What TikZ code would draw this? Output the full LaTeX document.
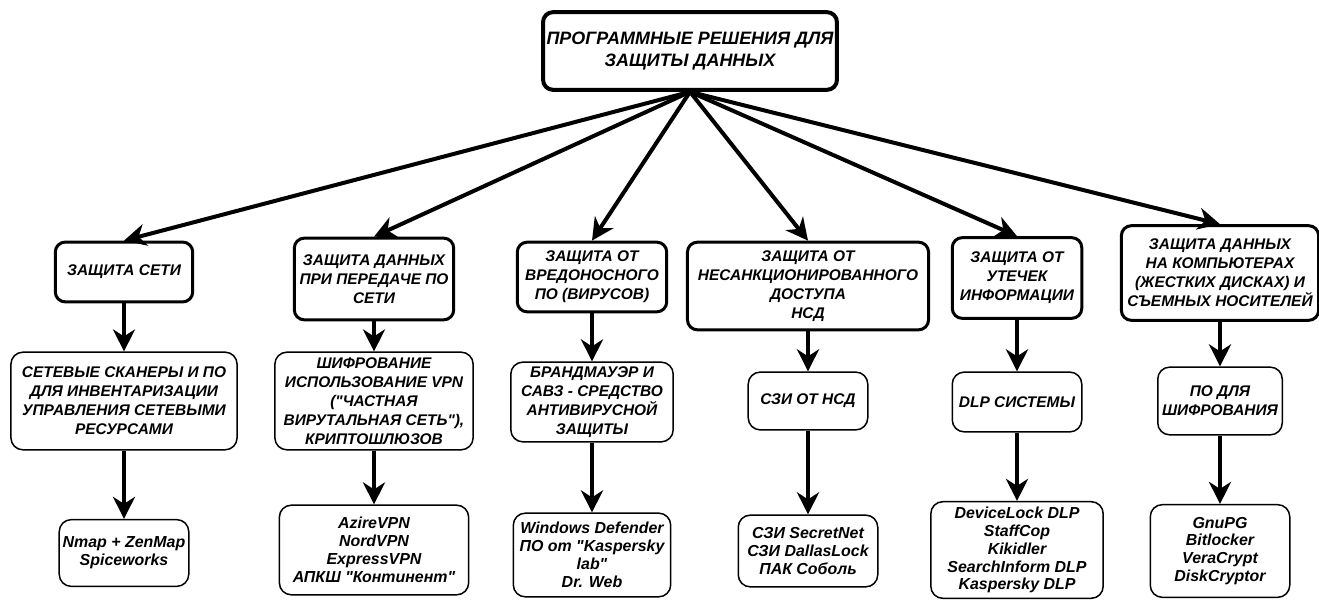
\documentclass[tikz,border=0pt]{standalone}
\usepackage{fontspec}
\setmainfont{Liberation Sans}[Ligatures=TeXOff]
\usetikzlibrary{arrows.meta}

\begin{document}
\begin{tikzpicture}[x=1bp, y=1bp,
    every node/.style={draw, rectangle, align=center, inner sep=1bp},
    rootbox/.style={line width=4bp, rounded corners=10bp, font=\fontsize{18}{21.5}\selectfont\bfseries\itshape},
    areabox/.style={line width=3bp, rounded corners=10bp, font=\fontsize{15.5}{19}\selectfont\bfseries\itshape},
    meansbox/.style={line width=1.5bp, rounded corners=12bp, font=\fontsize{15.5}{19}\selectfont\bfseries\itshape},
    listbox/.style={line width=1.5bp, rounded corners=12bp, font=\fontsize{16}{18}\selectfont\bfseries\itshape},
    link/.style={line width=4bp, -{Stealth[length=22bp, width=22bp, inset=7bp]}}]
        \useasboundingbox (0,0) rectangle (1319,600);

        % Nodes
        \node[rootbox, minimum width=295, minimum height=78] (root) at (690,549) {ПРОГРАММНЫЕ РЕШЕНИЯ ДЛЯ\\ЗАЩИТЫ ДАННЫХ};

        \node[areabox, minimum width=138, minimum height=60] (net) at (124,328) {ЗАЩИТА СЕТИ};
        \node[areabox, minimum width=160, minimum height=82] (vpn) at (374,321) {ЗАЩИТА ДАННЫХ\\ПРИ ПЕРЕДАЧЕ ПО\\СЕТИ};
        \node[areabox, minimum width=150, minimum height=70] (virus) at (592,323) {ЗАЩИТА ОТ\\ВРЕДОНОСНОГО\\ПО (ВИРУСОВ)};
        \node[areabox, minimum width=242, minimum height=88] (nsd) at (808,314) {ЗАЩИТА ОТ\\НЕСАНКЦИОНИРОВАННОГО\\ДОСТУПА\\НСД};
        \node[areabox, minimum width=130, minimum height=81] (leak) at (1017,322) {ЗАЩИТА ОТ\\УТЕЧЕК\\ИНФОРМАЦИИ};
        \node[areabox, minimum width=198, minimum height=95] (disk) at (1220,327) {ЗАЩИТА ДАННЫХ\\НА КОМПЬЮТЕРАХ\\(ЖЕСТКИХ ДИСКАХ) И\\СЪЕМНЫХ НОСИТЕЛЕЙ};

        \node[meansbox, minimum width=227, minimum height=98] (scan) at (124,199) {СЕТЕВЫЕ СКАНЕРЫ И ПО\\ДЛЯ ИНВЕНТАРИЗАЦИИ\\УПРАВЛЕНИЯ СЕТЕВЫМИ\\РЕСУРСАМИ};
        \node[meansbox, minimum width=199, minimum height=98] (crypt) at (374,199) {ШИФРОВАНИЕ\\ИСПОЛЬЗОВАНИЕ VPN\\("ЧАСТНАЯ\\ВИРУТАЛЬНАЯ СЕТЬ"),\\КРИПТОШЛЮЗОВ};
        \node[meansbox, minimum width=163, minimum height=80] (fw) at (592,198) {БРАНДМАУЭР И\\САВЗ - СРЕДСТВО\\АНТИВИРУСНОЙ\\ЗАЩИТЫ};
        \node[meansbox, minimum width=120, minimum height=58] (szi) at (808,199) {СЗИ ОТ НСД};
        \node[meansbox, minimum width=130, minimum height=60] (dlp) at (1017,198) {DLP СИСТЕМЫ};
        \node[meansbox, minimum width=125, minimum height=68] (enc) at (1220,199) {ПО ДЛЯ\\ШИФРОВАНИЯ};

        \node[listbox, minimum width=130, minimum height=67] (scanlist) at (124,47) {Nmap + ZenMap\\Spiceworks};
        \node[listbox, minimum width=190, minimum height=90] (cryptlist) at (374,50) {AzireVPN\\NordVPN\\ExpressVPN\\АПКШ "Континент"};
        \node[listbox, minimum width=158, minimum height=84] (fwlist) at (592,45) {Windows Defender\\ПО от "Kaspersky\\lab"\\Dr. Web};
        \node[listbox, minimum width=140, minimum height=72] (szilist) at (808,49) {СЗИ SecretNet\\СЗИ DallasLock\\ПАК Соболь};
        \node[listbox, minimum width=173, minimum height=97] (dlplist) at (1017,50) {DeviceLock DLP\\StaffCop\\Kikidler\\SearchInform DLP\\Kaspersky DLP};
        \node[listbox, minimum width=140, minimum height=93] (enclist) at (1220,49) {GnuPG\\Bitlocker\\VeraCrypt\\DiskCryptor};

        % Arrows
        \foreach \area in {net, vpn, virus, nsd, leak, disk}
            \draw[link] (root.south) -- (\area.north);

        \draw[link] (net) -- (scan);
        \draw[link] (vpn) -- (crypt);
        \draw[link] (virus) -- (fw);
        \draw[link] (nsd) -- (szi);
        \draw[link] (leak) -- (dlp);
        \draw[link] (disk) -- (enc);

        \draw[link] (scan) -- (scanlist);
        \draw[link] (crypt) -- (cryptlist);
        \draw[link] (fw) -- (fwlist);
        \draw[link] (szi) -- (szilist);
        \draw[link] (dlp) -- (dlplist);
        \draw[link] (enc) -- (enclist);
    \end{tikzpicture}
\end{document}
